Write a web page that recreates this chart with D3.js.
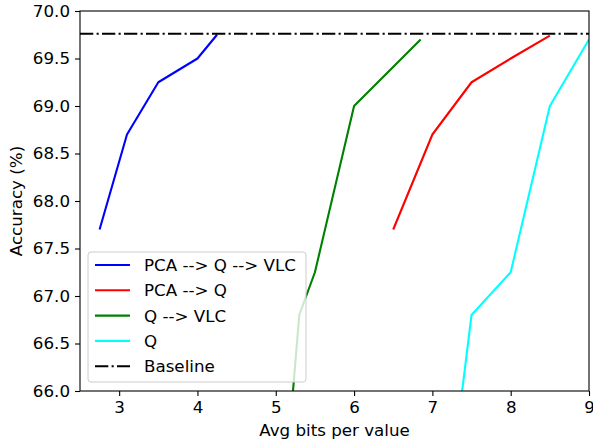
<!DOCTYPE html>
<html>
<head>
<meta charset="utf-8">
<script src="https://cdn.jsdelivr.net/npm/d3@7"></script>
<style>
  body { margin: 0; background: #fff; }
  text { font-family: "DejaVu Sans", sans-serif; fill: #000; }
</style>
</head>
<body>
<script>
// series (x = avg bits per value, y = accuracy %)
var seriesNames = ["PCA --> Q --> VLC", "PCA --> Q", "Q --> VLC", "Q"];
var seriesColors = ["#0000ff", "#ff0000", "#008000", "#00ffff"];
var pcaQVlcX = [2.75, 3.1, 3.5, 4.0, 4.25];
var pcaQVlcY = [67.7, 68.7, 69.25, 69.5, 69.75];
var pcaQX = [6.5, 7.0, 7.5, 8.0, 8.5];
var pcaQY = [67.7, 68.7, 69.25, 69.5, 69.74];
var qVlcX = [5.2, 5.3, 5.5, 6.0, 6.85];
var qVlcY = [65.8, 66.8, 67.25, 69.0, 69.7];
var qX = [7.35, 7.5, 8.0, 8.5, 9.0];
var qY = [65.8, 66.8, 67.25, 69.0, 69.7];
var baseline = 69.76;
var xTicks = [3, 4, 5, 6, 7, 8, 9];
var yTicks = [66.0, 66.5, 67.0, 67.5, 68.0, 68.5, 69.0, 69.5, 70.0];

var width = 593, height = 442;
var margin = {left: 80, right: 4, top: 11, bottom: 51};
var fs = "16.7px";
var dashDot = "13.3,3.3,2.1,3.3";

var svg = d3.select("body").append("svg")
    .attr("width", width)
    .attr("height", height);

var x = d3.scaleLinear().domain([2.5, 9]).range([margin.left, width - margin.right]);
var y = d3.scaleLinear().domain([66, 70]).range([height - margin.bottom, margin.top]);

svg.append("clipPath").attr("id", "clip")
  .append("rect")
    .attr("x", x(2.5)).attr("y", y(70))
    .attr("width", x(9) - x(2.5)).attr("height", y(66) - y(70));

var plot = svg.append("g").attr("clip-path", "url(#clip)");

var allX = [pcaQVlcX, pcaQX, qVlcX, qX];
var allY = [pcaQVlcY, pcaQY, qVlcY, qY];
var line = d3.line().x(d => x(d[0])).y(d => y(d[1]));

allX.forEach(function (xs, i) {
    var pts = xs.map((v, j) => [v, allY[i][j]]);
    plot.append("path")
        .attr("d", line(pts))
        .attr("fill", "none")
        .attr("stroke", seriesColors[i])
        .attr("stroke-width", 2.1)
        .attr("stroke-linejoin", "round");
});

// baseline
plot.append("line")
    .attr("x1", x(2.5)).attr("x2", x(9))
    .attr("y1", y(baseline)).attr("y2", y(baseline))
    .attr("stroke", "#000")
    .attr("stroke-width", 2.1)
    .attr("stroke-dasharray", dashDot);

// axes
var xAxis = svg.append("g")
    .attr("transform", "translate(0," + y(66) + ")")
    .call(d3.axisBottom(x).tickValues(xTicks).tickSize(5).tickPadding(5).tickFormat(d3.format("d")));
var yAxis = svg.append("g")
    .attr("transform", "translate(" + x(2.5) + ",0)")
    .call(d3.axisLeft(y).tickValues(yTicks).tickSize(5).tickPadding(5).tickFormat(d3.format(".1f")));
[xAxis, yAxis].forEach(function (a) {
    a.attr("font-size", null).attr("font-family", null);
    a.select(".domain").remove();
    a.selectAll("line").attr("stroke", "#000").attr("stroke-width", 1.1);
    a.selectAll("text").style("font-size", fs);
});

// frame
svg.append("rect")
    .attr("x", x(2.5)).attr("y", y(70))
    .attr("width", x(9) - x(2.5)).attr("height", y(66) - y(70))
    .attr("fill", "none")
    .attr("stroke", "#000")
    .attr("stroke-width", 1.1);

// axis labels
svg.append("text")
    .attr("x", (x(2.5) + x(9)) / 2)
    .attr("y", 436)
    .attr("text-anchor", "middle")
    .style("font-size", fs)
    .text("Avg bits per value");
svg.append("text")
    .attr("transform", "translate(22," + (y(66) + y(70)) / 2 + ") rotate(-90)")
    .attr("text-anchor", "middle")
    .style("font-size", fs)
    .text("Accuracy (%)");

// legend
var legend = svg.append("g");
legend.append("rect")
    .attr("x", 88).attr("y", 252)
    .attr("width", 218).attr("height", 130)
    .attr("rx", 3)
    .attr("fill", "#fff").attr("fill-opacity", 0.8)
    .attr("stroke", "#ccc").attr("stroke-width", 1);

var legendNames = seriesNames.concat(["Baseline"]);
var legendColors = seriesColors.concat(["#000"]);
legendNames.forEach(function (name, i) {
    var ly = 265 + i * 25.3;
    legend.append("line")
        .attr("x1", 95).attr("x2", 130)
        .attr("y1", ly).attr("y2", ly)
        .attr("stroke", legendColors[i])
        .attr("stroke-width", 2.1)
        .attr("stroke-dasharray", name === "Baseline" ? dashDot : null);
    legend.append("text")
        .attr("x", 144).attr("y", ly + 6)
        .style("font-size", fs)
        .text(name);
});
</script>
</body>
</html>
